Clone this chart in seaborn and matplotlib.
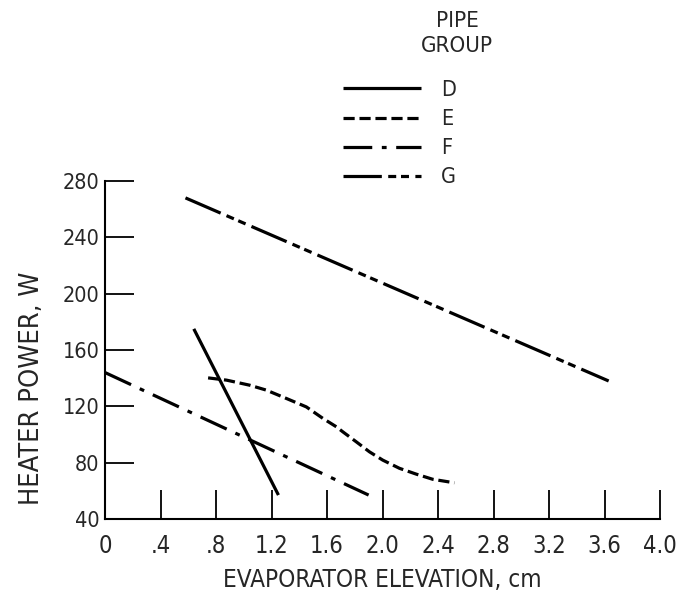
import matplotlib
matplotlib.use("Agg")
import matplotlib.pyplot as plt
import seaborn as sns
import pandas as pd
from matplotlib.lines import Line2D

sns.set_style("white")
plt.rcParams['font.family'] = ['DejaVu Sans']
plt.rcParams['font.stretch'] = 'condensed'

# Data
d_x = [0.64, 1.25]
d_y = [175, 57]
e_x = [0.743, 0.876, 1.043, 1.163, 1.307, 1.451, 1.571, 1.667, 1.714, 1.811,
       1.906, 2.002, 2.122, 2.242, 2.362, 2.518]
e_y = [140.2, 138.6, 135.0, 131.5, 125.6, 119.6, 111.4, 105.5, 101.9, 94.8,
       87.7, 81.8, 76.0, 71.9, 68.2, 65.7]
f_x = [0.0, 1.9]
f_y = [144, 57]
g_x = [0.58, 3.63]
g_y = [268, 138]

groups = ["D", "E", "F", "G"]
xticks = [0, 0.4, 0.8, 1.2, 1.6, 2.0, 2.4, 2.8, 3.2, 3.6, 4.0]
xticklabels = ["0", ".4", ".8", "1.2", "1.6", "2.0", "2.4", "2.8", "3.2", "3.6", "4.0"]
yticks = [40, 80, 120, 160, 200, 240, 280]

dashes = {
    "D": None,
    "E": (3.5, 1.5),
    "F": (9, 3, 1.5, 3),
    "G": (12, 2, 2.5, 1.5, 2.5, 2),
}
series = {"D": (d_x, d_y), "E": (e_x, e_y), "F": (f_x, f_y), "G": (g_x, g_y)}

W, H = 683, 599
fig = plt.figure(figsize=(W / 100, H / 100), dpi=100)
ax = fig.add_axes([105 / W, 1 - 519 / H, (660 - 105) / W, (519 - 181) / H])

lw = 2.3
for g in groups:
    xs, ys = series[g]
    df = pd.DataFrame({"x": xs, "y": ys})
    sns.lineplot(data=df, x="x", y="y", ax=ax, color="black", lw=lw,
                 sort=False, estimator=None)
    line = ax.lines[-1]
    if dashes[g] is not None:
        line.set_dashes(dashes[g])
    line.set_solid_capstyle("butt")
    line.set_solid_joinstyle("round")

ax.set_xlim(0, 4.0)
ax.set_ylim(40, 280)
ax.set_xticks(xticks)
ax.set_xticklabels(xticklabels)
ax.set_yticks(yticks)
for s in ["top", "right"]:
    ax.spines[s].set_visible(False)
for s in ["left", "bottom"]:
    ax.spines[s].set_color("black")
    ax.spines[s].set_linewidth(1.5)
ax.tick_params(axis="both", direction="in", length=21, width=1.3, color="black",
               bottom=True, left=True)
ax.tick_params(axis="x", labelsize=17, pad=11)
ax.tick_params(axis="y", labelsize=15.5, pad=4)
ax.set_xlabel("EVAPORATOR ELEVATION, cm", fontsize=17.5, labelpad=7)
ax.set_ylabel("HEATER POWER, W", fontsize=19.5)
ax.yaxis.set_label_coords(-0.108, 0.388)

handles = []
for g in groups:
    h = Line2D([0], [0], color="black", lw=lw)
    if dashes[g] is not None:
        h.set_dashes(dashes[g])
    h.set_solid_capstyle("butt")
    handles.append(h)
fig.legend(handles, groups, loc="upper left", bbox_to_anchor=(343 / W, 1 - 80 / H),
           frameon=False, fontsize=15.5, handlelength=3.6, handletextpad=0.95,
           labelspacing=0.42, borderpad=0, borderaxespad=0)
fig.text(457 / W, 1 - 11 / H, "PIPE\nGROUP", ha="center", va="top", fontsize=16,
         linespacing=1.3)

fig.savefig("out.png", dpi=100)
